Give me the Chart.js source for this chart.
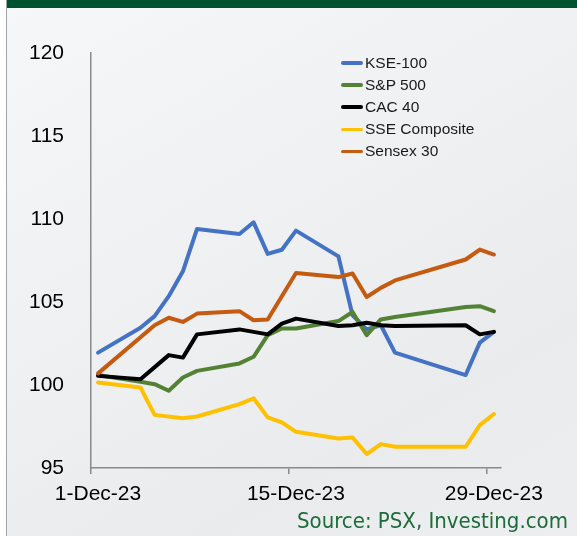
<!DOCTYPE html>
<html>
<head>
<meta charset="utf-8">
<script src="https://cdn.jsdelivr.net/npm/chart.js@4.4.1/dist/chart.umd.min.js"></script>
<style>
  body { margin: 0; background: #fff; }
  #wrap {
    position: relative; width: 577px; height: 536px; overflow: hidden;
    background: linear-gradient(150deg, #f6f7f8 0%, #eef0f1 45%, #e9ebed 75%, #eceef0 100%);
  }
  #band { position: absolute; left: 7px; top: 0; width: 570px; height: 8px; background: #00522f; }
  #edge { position: absolute; left: 0; top: 0; width: 6px; height: 536px; background: #fff; border-right: 1.5px solid #a3a3a3; }
  #chart { position: absolute; left: 0; top: 0; }
  #legend { position: absolute; left: 341px; top: 52px; font: 15.5px 'Liberation Sans', Arial, sans-serif; color: #1a1a1a; }
  #legend .row { height: 22.1px; line-height: 22.1px; display: flex; align-items: center; }
  #legend .swatch { width: 22px; height: 3.5px; margin-right: 2px; border-radius: 2px; }
  #source { position: absolute; right: 9px; top: 509px; font: 22px 'DejaVu Sans Condensed', 'DejaVu Sans', sans-serif; line-height: 24px; color: #1d6b3a; }
</style>
</head>
<body>
<div id="wrap">
  <div id="band"></div>
  <div id="edge"></div>
  <canvas id="chart" width="577" height="536"></canvas>
  <div id="legend"></div>
  <div id="source">Source: PSX, Investing.com</div>
</div>
<script>
// day of month (Dec 2023) for each point
const days = [1, 4, 5, 6, 7, 8, 11, 12, 13, 14, 15, 18, 19, 20, 21, 22, 27, 28, 29];

// rebased index values, null where the line has no point
const kse100 = [101.95, 103.45, 104.15, 105.35, 106.85, 109.4, 109.1, 109.8, 107.9, 108.15, 109.3, 107.75, 104.2, 103.35, 103.6, 101.95, 100.6, 102.55, 103.2];
const sp500 = [100.6, 100.2, 100.05, 99.65, 100.45, 100.85, 101.3, 101.7, 103.0, 103.4, 103.4, 103.85, 104.4, 103.0, 103.95, 104.1, 104.7, 104.75, 104.45];
const cac40 = [100.55, 100.35, null, 101.8, 101.65, 103.05, 103.35, null, 103.05, 103.7, 104.0, 103.55, 103.6, 103.75, 103.6, 103.55, 103.6, 103.05, 103.2];
const sseComposite = [100.15, 99.85, 98.2, null, 98.0, 98.1, 98.85, 99.2, 98.05, 97.75, 97.18, 96.78, 96.84, 95.84, 96.44, 96.28, 96.28, 97.58, 98.25];
const sensex30 = [100.7, null, 103.6, 104.05, 103.8, 104.3, 104.45, 103.9, 103.95, null, 106.75, 106.5, 106.72, 105.3, 105.85, 106.3, 107.56, 108.16, 107.86];

const seriesNames = ['KSE-100', 'S&P 500', 'CAC 40', 'SSE Composite', 'Sensex 30'];
const seriesColors = ['#4472c4', '#548235', '#000000', '#ffc000', '#c55a11'];
const seriesValues = [kse100, sp500, cac40, sseComposite, sensex30];

const xTickDays = [1, 15, 29];
const xTickLabels = ['1-Dec-23', '15-Dec-23', '29-Dec-23'];
const yMin = 95, yMax = 120, yStep = 5;

const axisGray = '#8a8a8a';

const datasets = seriesNames.map((name, i) => ({
    label: name,
    data: days.map((d, j) => ({ x: d, y: seriesValues[i][j] })),
    borderColor: seriesColors[i],
    borderWidth: 4,
    borderJoinStyle: 'round',
    borderCapStyle: 'round',
    pointRadius: 0,
    tension: 0,
    spanGaps: true,
    order: seriesNames.length - i // later series drawn on top, like Excel
}));

// legend
const legend = document.getElementById('legend');
seriesNames.forEach((name, i) => {
    const row = document.createElement('div');
    row.className = 'row';
    const sw = document.createElement('span');
    sw.className = 'swatch';
    sw.style.background = seriesColors[i];
    row.appendChild(sw);
    const txt = document.createElement('span');
    txt.textContent = name;
    row.appendChild(txt);
    legend.appendChild(row);
});

Chart.defaults.font.family = "'Liberation Sans', Arial, sans-serif";
Chart.defaults.color = '#000';

new Chart(document.getElementById('chart'), {
    type: 'line',
    data: { datasets: datasets },
    options: {
        responsive: false,
        animation: false,
        devicePixelRatio: 1,
        layout: { padding: { top: 53, right: 76, bottom: 0, left: 0 } },
        plugins: { legend: { display: false }, tooltip: { enabled: false } },
        scales: {
            x: {
                type: 'linear',
                min: 0.5,
                max: 29.5,
                afterFit: s => { s.height = 68; },
                afterBuildTicks: s => { s.ticks = xTickDays.map(d => ({ value: d - 0.5 })); },
                grid: { display: true, drawOnChartArea: false, drawTicks: true, tickLength: 6, color: axisGray, lineWidth: 1.5 },
                border: { display: true, color: axisGray, width: 1.5 },
                ticks: {
                    autoSkip: false,
                    maxRotation: 0,
                    padding: 8,
                    labelOffset: 7,
                    font: { size: 21 },
                    callback: (v, i) => xTickLabels[i]
                }
            },
            y: {
                min: yMin,
                max: yMax,
                afterFit: s => { s.width = 91; },
                grid: { display: false },
                border: { display: true, color: axisGray, width: 1.5 },
                ticks: { stepSize: yStep, padding: 19, font: { size: 21 } }
            }
        }
    }
});
</script>
</body>
</html>
